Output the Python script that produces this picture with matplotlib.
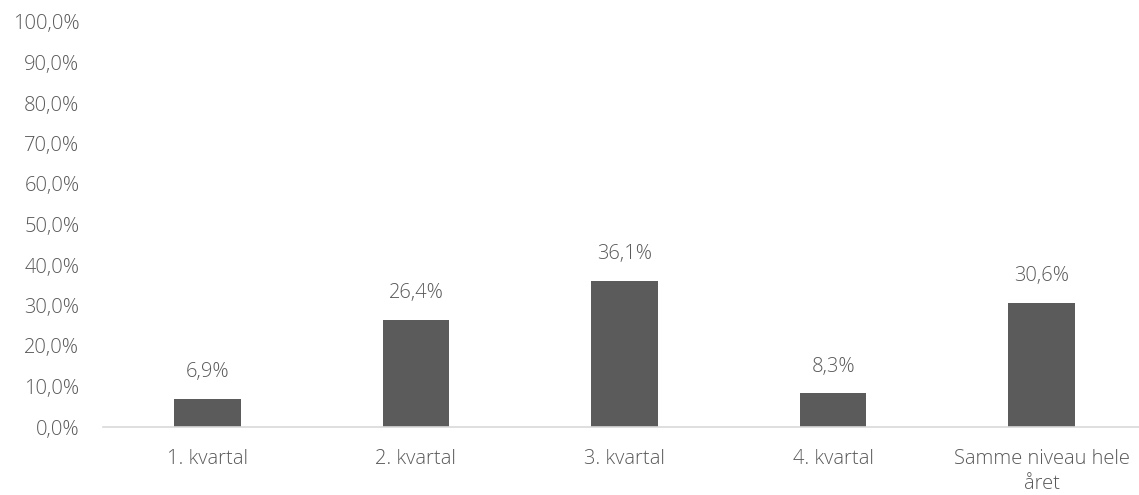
import matplotlib.pyplot as plt
from matplotlib.ticker import FuncFormatter

categories = ["1. kvartal", "2. kvartal", "3. kvartal", "4. kvartal", "Samme niveau hele\nåret"]
values = [6.9, 26.4, 36.1, 8.3, 30.6]
y_ticks = [0, 10, 20, 30, 40, 50, 60, 70, 80, 90, 100]

TEXT = "#595959"
BAR = "#5b5b5b"

plt.rcParams["font.family"] = ["Open Sans", "DejaVu Sans"]
plt.rcParams["font.weight"] = "light"


def pct(v, _pos=None):
    return f"{v:.1f}%".replace(".", ",")


fig = plt.figure(figsize=(11.39, 4.95), dpi=100)
ax = fig.add_axes([103 / 1139, 68 / 495, 1043 / 1139, 405 / 495])

x = range(len(categories))
bars = ax.bar(x, values, width=0.32, color=BAR, zorder=2)
for rect, v in zip(bars, values):
    ax.annotate(pct(v), (rect.get_x() + rect.get_width() / 2, v),
                xytext=(0, 12), textcoords="offset points",
                ha="center", va="bottom", fontsize=14.5, color=TEXT)

ax.set_xlim(-0.5, len(categories) - 0.5)
ax.set_ylim(0, 100)
ax.set_yticks(y_ticks)
ax.yaxis.set_major_formatter(FuncFormatter(pct))
ax.set_xticks(list(x))
ax.set_xticklabels(categories, linespacing=1.3)

for side in ["top", "right", "left"]:
    ax.spines[side].set_visible(False)
ax.spines["bottom"].set_color("#d9d9d9")
ax.spines["bottom"].set_linewidth(1.2)
ax.tick_params(axis="both", length=0, labelsize=14.5, labelcolor=TEXT)
ax.tick_params(axis="y", pad=17)
ax.tick_params(axis="x", pad=16)

fig.savefig("out.png", dpi=100)
